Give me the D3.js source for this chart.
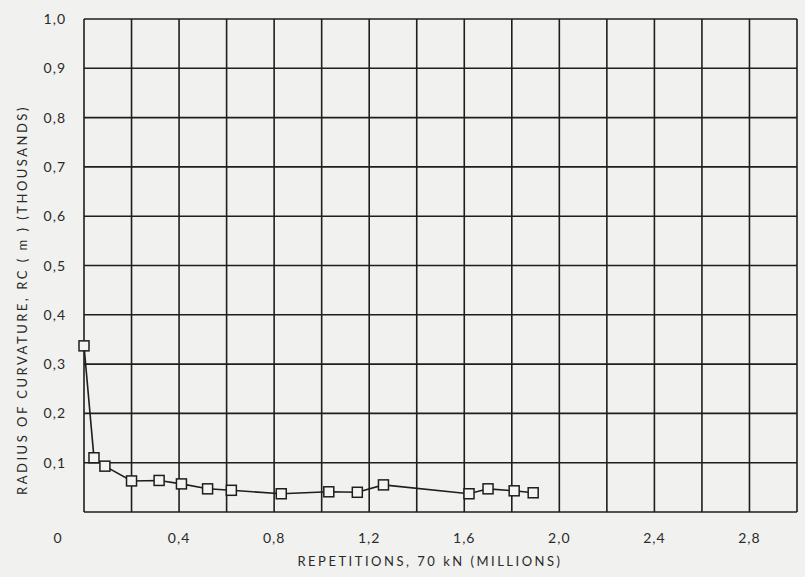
<!DOCTYPE html>
<html>
<head>
<meta charset="utf-8">
<script src="https://cdn.jsdelivr.net/npm/d3@7"></script>
<style>
  html, body { margin: 0; padding: 0; background: #f1f1ef; }
  svg { display: block; }
  .tick-label { font-family: 'Lato', 'DejaVu Sans', sans-serif; font-size: 14px; fill: #2a2a2a; letter-spacing: 1px; }
  .axis-title { font-family: 'Lato', 'DejaVu Sans', sans-serif; font-size: 13px; fill: #2a2a2a; letter-spacing: 2.5px; }
</style>
</head>
<body>
<div id="chart"></div>
<script>
// --- radius of curvature vs repetitions ------------------------------------

// repetitions, millions
const repetitions = [0.0, 0.042, 0.088, 0.2, 0.316, 0.41, 0.52, 0.62, 0.83,
                     1.03, 1.15, 1.26, 1.62, 1.70, 1.81, 1.89];
// radius of curvature, thousands of m
const radius = [0.337, 0.110, 0.093, 0.063, 0.064, 0.057, 0.047, 0.044, 0.037,
                0.041, 0.040, 0.055, 0.037, 0.047, 0.043, 0.039];

const xTickLabels = ['0', '0,4', '0,8', '1,2', '1,6', '2,0', '2,4', '2,8'];
const yTickLabels = ['0,1', '0,2', '0,3', '0,4', '0,5', '0,6', '0,7', '0,8', '0,9', '1,0'];

const W = 805, H = 577;
const M = { left: 84, right: 8, top: 19, bottom: 65 };

const svg = d3.select('#chart').append('svg')
  .attr('width', W).attr('height', H);

const x = d3.scaleLinear().domain([0, 3.0]).range([M.left, W - M.right]);
const y = d3.scaleLinear().domain([0, 1.0]).range([H - M.bottom, M.top]);

const ink = '#1e1e1e';

// grid: verticals every 0.2, horizontals every 0.1
const grid = svg.append('g').attr('stroke', ink).attr('stroke-width', 1.6);
grid.selectAll('line.v')
  .data(d3.range(0, 16).map(i => i * 0.2))
  .join('line')
    .attr('x1', d => x(d)).attr('x2', d => x(d))
    .attr('y1', y(0)).attr('y2', y(1));
grid.selectAll('line.h')
  .data(d3.range(0, 11).map(i => i / 10))
  .join('line')
    .attr('x1', x(0)).attr('x2', x(3.0))
    .attr('y1', d => y(d)).attr('y2', d => y(d));

// y tick labels
svg.append('g').selectAll('text')
  .data(yTickLabels)
  .join('text')
    .attr('class', 'tick-label')
    .attr('x', 66)
    .attr('y', (_, i) => y((i + 1) / 10) + 5)
    .attr('text-anchor', 'end')
    .text(d => d);

// x tick labels (the 0 sits out in the corner)
svg.append('g').selectAll('text')
  .data(xTickLabels)
  .join('text')
    .attr('class', 'tick-label')
    .attr('x', (d, i) => i === 0 ? 58 : x(i * 0.4))
    .attr('y', 543)
    .attr('text-anchor', 'middle')
    .text(d => d);

// axis titles
svg.append('text')
  .attr('class', 'axis-title')
  .attr('x', 430).attr('y', 566)
  .attr('text-anchor', 'middle')
  .text('REPETITIONS, 70 kN (MILLIONS)');

svg.append('text')
  .attr('class', 'axis-title')
  .attr('transform', 'translate(27, 300) rotate(-90)')
  .attr('text-anchor', 'middle')
  .text('RADIUS OF CURVATURE, RC ( m ) (THOUSANDS)');

// series
const pts = repetitions.map((r, i) => [r, radius[i]]);
svg.append('path')
  .datum(pts)
  .attr('fill', 'none')
  .attr('stroke', ink)
  .attr('stroke-width', 1.6)
  .attr('d', d3.line().x(d => x(d[0])).y(d => y(d[1])));

const S = 10;
svg.append('g').selectAll('rect')
  .data(pts)
  .join('rect')
    .attr('x', d => x(d[0]) - S / 2)
    .attr('y', d => y(d[1]) - S / 2)
    .attr('width', S).attr('height', S)
    .attr('fill', '#f4f4f2')
    .attr('stroke', ink)
    .attr('stroke-width', 1.5);
</script>
</body>
</html>
